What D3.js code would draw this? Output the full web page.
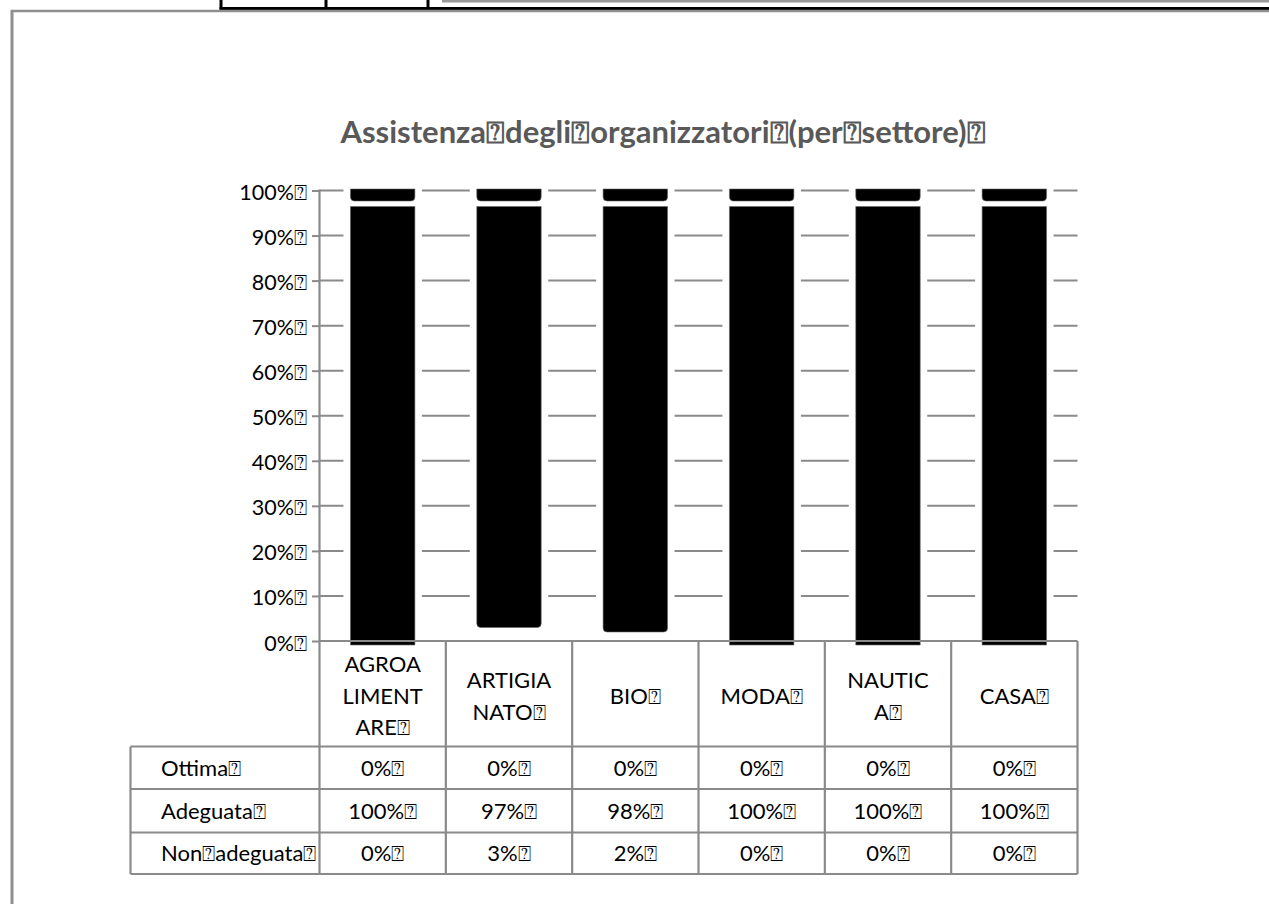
<!DOCTYPE html>
<html>
<head>
<meta charset="utf-8">
<script src="https://cdn.jsdelivr.net/npm/d3@7"></script>
<style>
  html, body { margin: 0; padding: 0; background: #fff; }
  svg { display: block; }
  text { font-family: Lato, "Open Sans", sans-serif; }
</style>
</head>
<body>
<svg id="chart" width="1269" height="904"></svg>
<script>
// ---- data ----
const titleText = "Assistenza\u2370degli\u2370organizzatori\u2370(per\u2370settore)\u2370";
const categories = ["AGROALIMENTARE", "ARTIGIANATO", "BIO", "MODA", "NAUTICA", "CASA"];
const categoryLabelLines = [
  ["AGROA", "LIMENT", "ARE\u2370"],
  ["ARTIGIA", "NATO\u2370"],
  ["BIO\u2370"],
  ["MODA\u2370"],
  ["NAUTIC", "A\u2370"],
  ["CASA\u2370"]
];
const seriesKeys = ["Ottima", "Adeguata", "Non adeguata"];
const seriesLabels = ["Ottima\u2370", "Adeguata\u2370", "Non\u2370adeguata\u2370"];
const ottima = [0, 0, 0, 0, 0, 0];
const adeguata = [100, 97, 98, 100, 100, 100];
const nonAdeguata = [0, 3, 2, 0, 0, 0];
const yTickValues = [0, 10, 20, 30, 40, 50, 60, 70, 80, 90, 100];
const yTickLabels = yTickValues.map(v => v + "%\u2370");

// ---- layout ----
const svg = d3.select("#chart");
const plotLeft = 319.5, plotRight = 1077.5;
const plotTop = 190.5, plotBottom = 641;
const tableLeft = 130.5;
const rowEdges = [746.5, 789, 832.5, 874];
const gridColor = "#8a8a8a";
const textSize = 22;

const x = d3.scaleBand().domain(categories).range([plotLeft, plotRight]).paddingInner(0).paddingOuter(0);
const y = d3.scaleLinear().domain([0, 100]).range([plotBottom, plotTop]);
const barW = x.bandwidth() * 0.51;

// rows for stacking: bottom segment first
const rows = categories.map((c, i) => ({
  cat: c,
  "Non adeguata": nonAdeguata[i],
  "Adeguata": adeguata[i],
  "Ottima": ottima[i]
}));
const stackOrder = ["Non adeguata", "Adeguata", "Ottima"];
const stacked = d3.stack().keys(stackOrder)(rows);
const fills = { "Non adeguata": "#ffffff", "Adeguata": "#000000", "Ottima": "#000000" };

// ---- page frame fragments ----
const frame = svg.append("g");
frame.append("line").attr("x1", 442).attr("x2", 1269).attr("y1", 1.2).attr("y2", 1.2)
  .attr("stroke", "#999").attr("stroke-width", 2.6);
frame.append("line").attr("x1", 219.5).attr("x2", 1269).attr("y1", 8.5).attr("y2", 8.5)
  .attr("stroke", "#000").attr("stroke-width", 3);
[221, 326, 428].forEach(px => {
  frame.append("line").attr("x1", px).attr("x2", px).attr("y1", 0).attr("y2", 9)
    .attr("stroke", "#000").attr("stroke-width", 3);
});
frame.append("line").attr("x1", 11).attr("x2", 1269).attr("y1", 11).attr("y2", 11)
  .attr("stroke", "#8f8f8f").attr("stroke-width", 2.4);
frame.append("line").attr("x1", 12).attr("x2", 12).attr("y1", 10).attr("y2", 904)
  .attr("stroke", "#8f8f8f").attr("stroke-width", 3);

// ---- title ----
svg.append("text")
  .attr("x", 663).attr("y", 143)
  .attr("text-anchor", "middle")
  .attr("font-weight", "bold")
  .attr("font-size", 31)
  .attr("fill", "#595959")
  .text(titleText);

// ---- gridlines ----
const grid = svg.append("g");
grid.selectAll("line")
  .data(yTickValues.filter(v => v > 0))
  .join("line")
  .attr("x1", plotLeft).attr("x2", plotRight)
  .attr("y1", d => y(d)).attr("y2", d => y(d))
  .attr("stroke", gridColor).attr("stroke-width", 2);

// white clearance around each column
svg.append("g").selectAll("rect")
  .data(categories)
  .join("rect")
  .attr("x", d => x(d) + (x.bandwidth() - barW) / 2 - 7)
  .attr("width", barW + 14)
  .attr("y", y(100) - 3)
  .attr("height", y(0) - y(100) + 2)
  .attr("fill", "#fff");

// ---- bars ----
const capDepth = 12;   // height of the top lip
const capGap = 5.5;    // white seam under the lip
function segmentPath(x0, w, yTop, yBot, roundTop, roundBot) {
  const r = 4;
  const p = d3.path();
  const rt = roundTop ? r : 0, rb = roundBot ? r : 0;
  p.moveTo(x0 + rt, yTop);
  p.lineTo(x0 + w - rt, yTop);
  if (rt) p.quadraticCurveTo(x0 + w, yTop, x0 + w, yTop + rt);
  p.lineTo(x0 + w, yBot - rb);
  if (rb) p.quadraticCurveTo(x0 + w, yBot, x0 + w - rb, yBot);
  p.lineTo(x0 + rb, yBot);
  if (rb) p.quadraticCurveTo(x0, yBot, x0, yBot - rb);
  p.lineTo(x0, yTop + rt);
  if (rt) p.quadraticCurveTo(x0, yTop, x0 + rt, yTop);
  p.closePath();
  return p.toString();
}

const barLayer = svg.append("g");
stacked.forEach(series => {
  if (fills[series.key] === "#ffffff") return;
  series.forEach(seg => {
    const lo = seg[0], hi = seg[1];
    if (hi - lo <= 0) return;
    const cat = seg.data.cat;
    const bx = x(cat) + (x.bandwidth() - barW) / 2;
    const yHi = y(hi) - 1.5;
    const yLo = lo === 0 ? y(lo) + 4 : y(lo);
    const reachesTop = hi >= 100;
    if (reachesTop) {
      // lip at the top of the column, then the body below the seam
      barLayer.append("path")
        .attr("d", segmentPath(bx, barW, yHi, yHi + capDepth, false, true))
        .attr("fill", fills[series.key])
        .attr("stroke", "#666").attr("stroke-width", 0.6);
      barLayer.append("path")
        .attr("d", segmentPath(bx, barW, yHi + capDepth + capGap, yLo, false, lo > 0))
        .attr("fill", fills[series.key])
        .attr("stroke", "#666").attr("stroke-width", 0.6);
    } else {
      barLayer.append("path")
        .attr("d", segmentPath(bx, barW, yHi, yLo, false, lo > 0))
        .attr("fill", fills[series.key])
        .attr("stroke", "#666").attr("stroke-width", 0.6);
    }
  });
});

// ---- y axis ----
const yAxis = d3.axisLeft(y).tickValues(yTickValues).tickSize(7.5).tickPadding(5)
  .tickFormat((d, i) => yTickLabels[i]);
const yAxisG = svg.append("g").attr("transform", `translate(${plotLeft},0)`).call(yAxis);
yAxisG.select(".domain").remove();
yAxisG.selectAll(".tick line").attr("stroke", gridColor).attr("stroke-width", 2);
yAxisG.selectAll(".tick text")
  .attr("font-family", "Lato, sans-serif")
  .attr("font-size", 21.5)
  .attr("fill", "#000")
  .attr("dy", "0.42em");

// ---- table lines ----
const tbl = svg.append("g").attr("stroke", gridColor).attr("stroke-width", 2.2).attr("fill", "none");
// y axis line, continued down through the table
tbl.append("line").attr("x1", plotLeft).attr("x2", plotLeft).attr("y1", plotTop - 1).attr("y2", rowEdges[3]);
// baseline / header top
tbl.append("line").attr("x1", plotLeft).attr("x2", plotRight).attr("y1", plotBottom).attr("y2", plotBottom);
// column separators
const colEdges = categories.map(c => x(c) + x.bandwidth());
colEdges.forEach(cx => {
  tbl.append("line").attr("x1", cx).attr("x2", cx).attr("y1", plotBottom).attr("y2", rowEdges[3]);
});
// row lines
rowEdges.forEach(ry => {
  tbl.append("line").attr("x1", tableLeft).attr("x2", plotRight).attr("y1", ry).attr("y2", ry);
});
tbl.append("line").attr("x1", tableLeft).attr("x2", tableLeft).attr("y1", rowEdges[0]).attr("y2", rowEdges[3]);

// ---- category labels ----
const linePitch = 31.5;
const headerMid = 696;
const catG = svg.append("g");
categories.forEach((c, i) => {
  const lines = categoryLabelLines[i];
  const cx = x(c) + x.bandwidth() / 2;
  const first = headerMid - (lines.length - 1) * linePitch / 2;
  const t = catG.append("text")
    .attr("text-anchor", "middle")
    .attr("font-size", textSize)
    .attr("fill", "#000");
  lines.forEach((ln, j) => {
    t.append("tspan").attr("x", cx).attr("y", first + j * linePitch).attr("dy", "0.36em").text(ln);
  });
});

// ---- data table ----
const seriesValues = { "Ottima": ottima, "Adeguata": adeguata, "Non adeguata": nonAdeguata };
const tableG = svg.append("g");
seriesKeys.forEach((k, r) => {
  const cy = (rowEdges[r] + rowEdges[r + 1]) / 2;
  tableG.append("text")
    .attr("x", 161).attr("y", cy).attr("dy", "0.36em")
    .attr("font-size", textSize).attr("fill", "#000")
    .text(seriesLabels[r]);
  categories.forEach((c, i) => {
    tableG.append("text")
      .attr("x", x(c) + x.bandwidth() / 2).attr("y", cy).attr("dy", "0.36em")
      .attr("text-anchor", "middle")
      .attr("font-size", textSize).attr("fill", "#000")
      .text(seriesValues[k][i] + "%\u2370");
  });
});
</script>
</body>
</html>
